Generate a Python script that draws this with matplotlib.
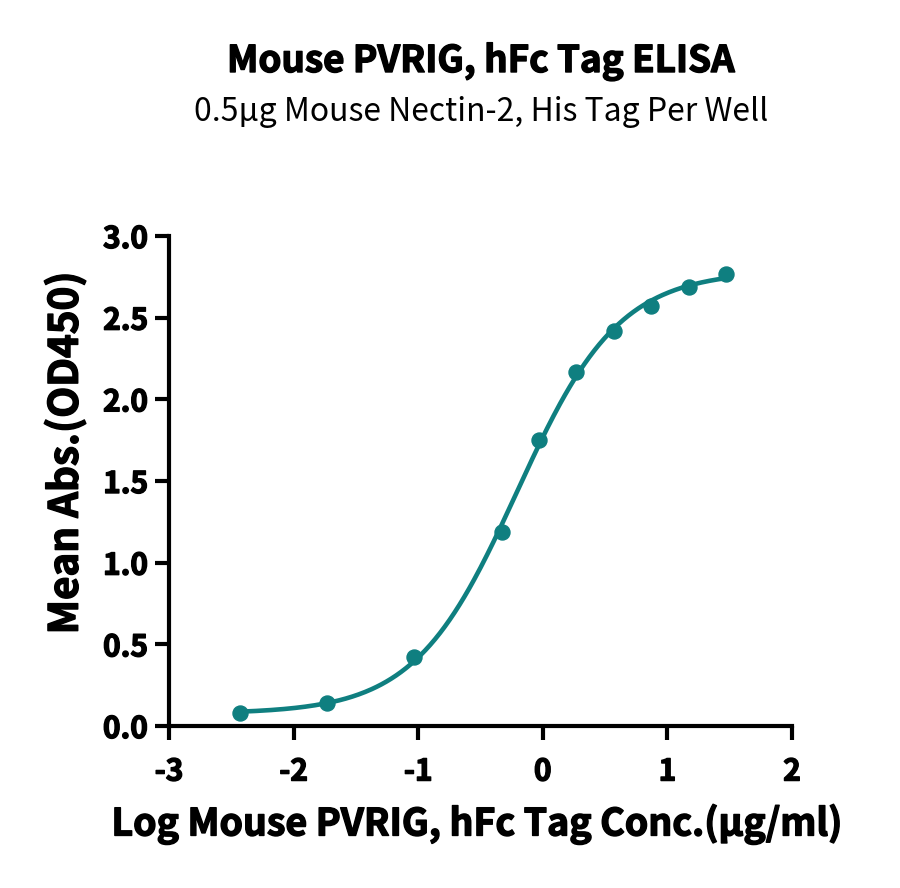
import numpy as np
import matplotlib
matplotlib.use("Agg")
import matplotlib.pyplot as plt
import matplotlib.patheffects as pe

log_conc = [-2.43, -1.73, -1.03, -0.33, -0.03, 0.27, 0.57, 0.87, 1.17, 1.47]
mean_abs = [0.08, 0.14, 0.42, 1.19, 1.75, 2.17, 2.42, 2.57, 2.69, 2.77]

title = "Mouse PVRIG, hFc Tag ELISA"
subtitle = "0.5µg Mouse Nectin-2, His Tag Per Well"
xlabel = "Log Mouse PVRIG, hFc Tag Conc.(µg/ml)"
ylabel = "Mean Abs.(OD450)"
xticks = [-3, -2, -1, 0, 1, 2]
yticks = [0.0, 0.5, 1.0, 1.5, 2.0, 2.5, 3.0]

color = "#0f7f80"
fam = ["Noto Sans CJK SC", "DejaVu Sans"]
plt.rcParams["font.family"] = fam
W = "bold"
heavy = [pe.withStroke(linewidth=1.0, foreground="black")]

x = np.array(log_conc)
y = np.array(mean_abs)


def four_pl(p, xx):
    b, t, c, h = p
    return b + (t - b) / (1 + 10 ** ((c - xx) * h))


# fit 4PL with Levenberg-Marquardt
p = np.array([0.05, 2.8, -0.2, 1.0])
lam = 1e-3
for _ in range(200):
    r = y - four_pl(p, x)
    J = np.zeros((len(x), 4))
    for i in range(4):
        dp = np.zeros(4); dp[i] = 1e-6
        J[:, i] = (four_pl(p + dp, x) - four_pl(p - dp, x)) / 2e-6
    A = J.T @ J + lam * np.eye(4)
    step = np.linalg.solve(A, J.T @ r)
    pn = p + step
    if np.sum((y - four_pl(pn, x)) ** 2) < np.sum(r ** 2):
        p = pn; lam *= 0.5
    else:
        lam *= 4

fig = plt.figure(figsize=(9, 8.88), dpi=100)
ax = fig.add_axes([169 / 900, (888 - 726) / 888, (792 - 169) / 900, (726 - 236) / 888])

xs = np.linspace(x.min(), x.max(), 300)
ax.plot(xs, four_pl(p, xs), color=color, lw=3.3, solid_capstyle="round", zorder=2)
ax.plot(x, y, "o", color=color, ms=10.8, zorder=3)

ax.set_xlim(-3, 2)
ax.set_ylim(0, 3.0)
ax.set_xticks(xticks)
ax.set_yticks(yticks)
ax.set_xticklabels([str(v) for v in xticks])
ax.set_yticklabels([f"{v:.1f}" for v in yticks])
for s in ["top", "right"]:
    ax.spines[s].set_visible(False)
for s in ["left", "bottom"]:
    ax.spines[s].set_linewidth(3)
    ax.spines[s].set_capstyle("projecting")
ax.tick_params(axis="both", width=3, length=10, direction="out", labelsize=21.5, pad=5)
for lab in ax.get_xticklabels() + ax.get_yticklabels():
    lab.set_fontweight(W)
    lab.set_path_effects(heavy)
ax.tick_params(axis="x", pad=12)

ax.set_xlabel(xlabel, fontsize=27, fontweight=W, labelpad=16, path_effects=heavy)
ax.xaxis.set_label_coords(0.494, -0.2)
ax.xaxis.label.set_va("center")
ax.set_ylabel(ylabel, fontsize=29, fontweight=W, path_effects=heavy)
ax.yaxis.set_label_coords(-0.132, 0.557)

fig.text(481 / 900, 1 - 62 / 888, title, ha="center", va="center", fontsize=26.5,
         fontweight=W, path_effects=heavy)
fig.text(481 / 900, 1 - 112 / 888, subtitle, ha="center", va="center", fontsize=23)

fig.savefig("out.png", dpi=100)
